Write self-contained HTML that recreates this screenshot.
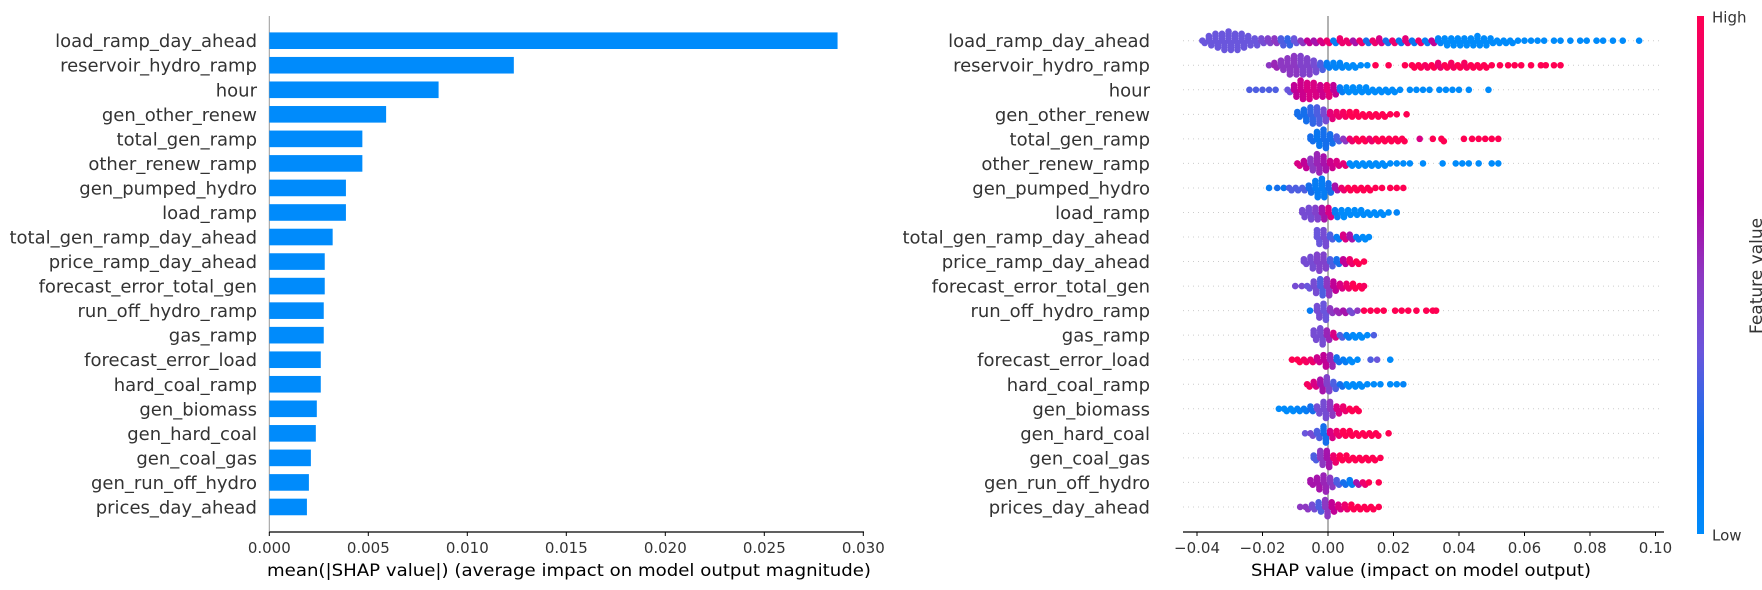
<!DOCTYPE html>
<html><head><meta charset="utf-8"><style>
html,body{margin:0;padding:0;background:#fff;}
svg{display:block;font-family:"DejaVu Sans","Liberation Sans",sans-serif;}
</style></head><body>
<svg id="chart" width="1762" height="590" viewBox="0 0 1762 590" xmlns="http://www.w3.org/2000/svg">
<defs>
<linearGradient id="cbar" x1="0" y1="1" x2="0" y2="0">
<stop offset="0" stop-color="#008bfb"/><stop offset="0.18" stop-color="#0a72ee"/>
<stop offset="0.35" stop-color="#6a56dc"/><stop offset="0.5" stop-color="#8d38c2"/>
<stop offset="0.65" stop-color="#b3009f"/><stop offset="0.82" stop-color="#de0080"/>
<stop offset="1" stop-color="#ff0052"/></linearGradient>
</defs>
<g id="left"></g>
<g id="right"></g>
<g id="cb">
<rect x="1697" y="16" width="7" height="518" fill="url(#cbar)"/>
<text x="1712" y="22.5" font-size="15" fill="#333">High</text>
<text x="1712" y="540.5" font-size="15" fill="#333">Low</text>
<text x="0" y="0" font-size="17" fill="#333" text-anchor="middle" transform="translate(1762,276) rotate(-90)">Feature value</text>
</g>
</svg>
<script>
const features = ["load_ramp_day_ahead","reservoir_hydro_ramp","hour","gen_other_renew","total_gen_ramp","other_renew_ramp","gen_pumped_hydro","load_ramp","total_gen_ramp_day_ahead","price_ramp_day_ahead","forecast_error_total_gen","run_off_hydro_ramp","gas_ramp","forecast_error_load","hard_coal_ramp","gen_biomass","gen_hard_coal","gen_coal_gas","gen_run_off_hydro","prices_day_ahead"];
const meanAbsShap = [0.0287,0.01235,0.00855,0.0059,0.0047,0.0047,0.00387,0.00387,0.0032,0.0028,0.0028,0.00275,0.00275,0.0026,0.0026,0.0024,0.00235,0.0021,0.002,0.0019];
const barTicks = ["0.000","0.005","0.010","0.015","0.020","0.025","0.030"];
const swarmTicks = ["\u22120.04","\u22120.02","0.00","0.02","0.04","0.06","0.08","0.10"];
// beeswarm clusters per feature: [shap value, dot count, feature value 0..1]
const sw0 = [[-0.038,2,.35],[-0.036,5,.35],[-0.034,7,.35],[-0.032,8,.35],[-0.030,9,.35],[-0.028,8,.35],[-0.026,7,.35],[-0.024,5,.35],[-0.022,4,.35],[-0.020,3,.4],[-0.018,3,.45],[-0.016,3,.5],[-0.014,4,.3],[-0.012,4,.25],[-0.010,3,.35],[-0.008,2,.5],[-0.006,2,.7],[-0.004,2,.6],[-0.002,2,.8],[0,2,.9],[0.002,2,.1],[0.004,3,.9],[0.006,2,.9],[0.008,2,.6],[0.010,2,.9],[0.012,2,.2],[0.014,2,.9],[0.016,3,.8],[0.018,2,.2],[0.020,2,.9],[0.022,2,.15],[0.024,3,.85],[0.026,2,.15],[0.028,2,.9],[0.030,2,.1],[0.032,2,.7],[0.034,3,.05],[0.036,4,0],[0.038,4,0],[0.040,4,0],[0.042,4,0],[0.044,4,0],[0.046,5,0],[0.048,4,0],[0.050,3,0],[0.052,2,0],[0.054,2,0],[0.056,2,0],[0.058,1,0],[0.060,1,0],[0.062,1,0],[0.064,1,0],[0.066,1,0],[0.069,1,0],[0.071,1,0],[0.074,1,0],[0.077,1,0],[0.079,1,0],[0.082,1,0],[0.084,1,0],[0.087,1,0],[0.090,1,0],[0.095,1,0]];
const sw1 = [[-0.018,1,.5],[-0.016,3,.55],[-0.014,5,.5],[-0.012,8,.5],[-0.010,9,.5],[-0.008,9,.45],[-0.006,8,.45],[-0.004,6,.4],[-0.002,4,.3],[0,3,.1],[0.002,3,.05],[0.004,3,.05],[0.006,2,0],[0.008,2,0],[0.010,1,0],[0.012,1,0],[0.0145,1,1],[0.0185,1,1],[0.0235,1,1],[0.026,2,1],[0.028,2,1],[0.030,2,.95],[0.032,2,1],[0.034,3,.9],[0.036,2,1],[0.038,3,.95],[0.040,2,1],[0.042,3,.95],[0.044,2,1],[0.046,2,1],[0.048,2,1],[0.050,1,1],[0.0525,1,1],[0.055,1,1],[0.057,1,1],[0.059,1,1],[0.062,1,1],[0.065,1,1],[0.0665,1,1],[0.069,1,1],[0.071,1,1]];
const sw2 = [[-0.024,1,.3],[-0.022,1,.3],[-0.020,1,.3],[-0.018,1,.3],[-0.016,1,.3],[-0.012,2,.35],[-0.010,6,.7],[-0.008,9,.75],[-0.006,8,.8],[-0.004,7,.8],[-0.002,6,.75],[0,6,.85],[0.002,5,.7],[0.004,3,.1],[0.006,3,0],[0.008,3,0],[0.010,3,0],[0.012,3,0],[0.014,2,0],[0.016,2,0],[0.018,2,0],[0.020,2,0],[0.022,1,0],[0.025,1,0],[0.027,1,0],[0.029,1,0],[0.031,1,0],[0.034,1,0],[0.036,1,0],[0.038,1,0],[0.040,1,0],[0.043,1,0],[0.049,1,0]];
const sw3 = [[-0.009,3,.2],[-0.007,6,.2],[-0.005,8,.25],[-0.003,8,.3],[-0.001,6,.4],[0.001,4,.85],[0.003,3,.9],[0.005,3,.95],[0.007,3,1],[0.009,3,1],[0.011,2,1],[0.013,2,1],[0.015,2,1],[0.017,2,1],[0.019,1,1],[0.021,1,1],[0.024,1,1]];
const sw4 = [[-0.005,3,.2],[-0.003,7,.15],[-0.001,9,.2],[0.001,5,.2],[0.003,3,.3],[0.005,2,.5],[0.007,2,.9],[0.009,2,1],[0.011,2,1],[0.013,2,.9],[0.015,2,1],[0.017,2,1],[0.019,2,1],[0.021,2,1],[0.023,2,1],[0.028,1,.8],[0.032,1,1],[0.035,2,1],[0.0415,1,1],[0.044,1,1],[0.046,1,1],[0.048,1,1],[0.050,1,1],[0.052,1,1]];
const sw5 = [[-0.009,2,.8],[-0.007,4,.7],[-0.005,6,.5],[-0.003,9,.55],[-0.001,7,.6],[0.001,4,.75],[0.003,3,.8],[0.005,2,.85],[0.007,2,0],[0.009,2,0],[0.011,2,0],[0.013,2,0],[0.015,2,0],[0.017,2,0],[0.019,1,0],[0.021,1,0],[0.023,1,0],[0.025,1,0],[0.029,1,0],[0.035,1,0],[0.039,1,0],[0.041,1,0],[0.043,1,0],[0.046,1,0],[0.050,1,0],[0.052,1,0]];
const sw6 = [[-0.018,1,.1],[-0.0155,1,.2],[-0.0135,1,.15],[-0.0115,2,.3],[-0.0095,2,.3],[-0.0075,2,.3],[-0.0055,4,.2],[-0.0035,8,.1],[-0.0015,9,.1],[0.0005,5,.2],[0.0025,3,.6],[0.0045,2,.9],[0.0065,2,1],[0.0085,2,1],[0.0105,2,1],[0.0125,2,1],[0.0145,1,1],[0.0165,1,1],[0.019,1,1],[0.021,1,1],[0.023,1,1]];
const sw7 = [[-0.0075,4,.4],[-0.0055,6,.4],[-0.0035,6,.45],[-0.0015,6,.6],[0.0005,5,.8],[0.0025,4,.1],[0.0045,4,0],[0.0065,3,0],[0.0085,3,0],[0.0105,3,0],[0.0125,2,0],[0.0145,2,0],[0.0165,2,0],[0.0185,1,0],[0.021,1,.05]];
const sw8 = [[-0.003,7,.35],[-0.001,8,.4],[0.001,3,.3],[0.003,2,.1],[0.005,3,.8],[0.007,3,.6],[0.009,2,.1],[0.011,2,0],[0.0125,1,0]];
const sw9 = [[-0.007,3,.4],[-0.005,6,.4],[-0.003,8,.45],[-0.001,7,.45],[0.001,4,.3],[0.003,3,.2],[0.005,3,.7],[0.007,3,.9],[0.009,2,1],[0.011,1,1]];
const sw10 = [[-0.010,1,.4],[-0.008,1,.4],[-0.006,2,.35],[-0.004,6,.4],[-0.002,8,.3],[0,8,.5],[0.002,5,.7],[0.004,3,.8],[0.006,3,.9],[0.008,3,1],[0.010,2,1],[0.011,1,.95]];
const sw11 = [[-0.0055,1,.1],[-0.003,6,.4],[-0.001,8,.35],[0.001,3,.5],[0.003,2,.55],[0.005,2,.6],[0.007,2,.4],[0.009,1,.5],[0.011,1,1],[0.013,1,1],[0.015,1,1],[0.017,1,1],[0.0205,1,1],[0.0225,1,1],[0.0245,1,1],[0.027,1,1],[0.030,1,1],[0.032,1,1],[0.033,1,1]];
const sw12 = [[-0.004,5,.4],[-0.002,8,.4],[0,5,.55],[0.002,3,.8],[0.004,2,.3],[0.006,2,.1],[0.008,2,0],[0.010,2,0],[0.012,1,0],[0.014,1,.3]];
const sw13 = [[-0.011,1,1],[-0.009,2,1],[-0.007,2,.95],[-0.005,2,.9],[-0.003,3,.75],[-0.001,6,.7],[0.001,6,.55],[0.003,3,.2],[0.005,2,.1],[0.007,2,0],[0.009,1,0],[0.013,1,.3],[0.015,1,.35],[0.019,1,0]];
const sw14 = [[-0.006,2,.95],[-0.004,3,.8],[-0.002,6,.6],[0,7,.45],[0.002,4,.3],[0.004,2,.2],[0.006,2,0],[0.008,2,0],[0.010,2,0],[0.012,1,0],[0.014,1,0],[0.016,1,0],[0.019,1,0],[0.021,1,0],[0.023,1,.05]];
const sw15 = [[-0.015,1,0],[-0.013,2,0],[-0.011,2,0],[-0.009,2,.05],[-0.007,2,.1],[-0.005,3,.2],[-0.003,4,.4],[-0.001,8,.4],[0.001,7,.5],[0.003,4,.8],[0.005,3,.9],[0.007,2,1],[0.009,2,1]];
const sw16 = [[-0.007,1,.35],[-0.005,2,.4],[-0.003,4,.3],[-0.001,8,.2],[0.001,4,.8],[0.003,3,.9],[0.005,3,1],[0.007,3,1],[0.009,2,1],[0.011,2,1],[0.013,2,1],[0.015,2,1],[0.0185,1,1]];
const sw17 = [[-0.004,3,.3],[-0.002,7,.5],[0,8,.6],[0.002,4,.9],[0.004,3,1],[0.006,3,1],[0.008,2,1],[0.010,2,1],[0.012,2,1],[0.014,2,1],[0.016,1,1]];
const sw18 = [[-0.005,3,.6],[-0.003,6,.6],[-0.001,8,.55],[0.001,5,.5],[0.003,3,.3],[0.005,2,.2],[0.007,3,.1],[0.009,2,.6],[0.011,2,.9],[0.0125,1,1],[0.0155,1,1]];
const sw19 = [[-0.0085,1,.5],[-0.0065,2,.5],[-0.0045,3,.4],[-0.0025,5,.3],[-0.0005,8,.5],[0.0015,5,.7],[0.0035,3,.8],[0.0055,3,.9],[0.0075,3,1],[0.0095,2,1],[0.0115,2,1],[0.0135,2,1],[0.0155,1,1]];
const swarms = [sw0,sw1,sw2,sw3,sw4,sw5,sw6,sw7,sw8,sw9,sw10,sw11,sw12,sw13,sw14,sw15,sw16,sw17,sw18,sw19];

const NS = "http://www.w3.org/2000/svg";
function mk(tag, attrs, parent){const e=document.createElementNS(NS,tag);for(const k in attrs)e.setAttribute(k,attrs[k]);parent.appendChild(e);return e;}
const rowY = i => 40.7 + i*24.54;
const xBar = v => 269.3 + v*19800;
const xSw = v => 1328 + v*3275;
const stops=[[0,[0,139,251]],[0.18,[10,114,238]],[0.35,[106,86,220]],[0.5,[141,56,194]],[0.65,[179,0,159]],[0.82,[222,0,128]],[1,[255,0,82]]];
function col(t){for(let i=1;i<stops.length;i++){if(t<=stops[i][0]){const a=stops[i-1],b=stops[i];const f=(t-a[0])/(b[0]-a[0]);return "rgb("+a[1].map((c,j)=>Math.round(c+(b[1][j]-c)*f)).join(",")+")";}}return "rgb(255,0,82)";}

const L=document.getElementById('left');
let e;
e=mk('line',{x1:269.3,y1:16,x2:269.3,y2:532,stroke:'#999','stroke-width':1},L);


features.forEach((f,i)=>{
  const b=mk('rect',{x:xBar(0),y:rowY(i)-8.3,width:xBar(meanAbsShap[i])-xBar(0),height:16.6,fill:'#008bfb'},L);
  
  
  const t=mk('text',{x:257,y:rowY(i)+6.5,'font-size':18,fill:'#333','text-anchor':'end'},L);
  t.textContent=f;
  
  
});
e=mk('line',{x1:269.3,y1:532,x2:864,y2:532,stroke:'#000','stroke-width':1.3},L);


barTicks.forEach((s,i)=>{
  const x=xBar(parseFloat(s));
  const tk=mk('line',{x1:x,y1:532,x2:x,y2:536,stroke:'#000','stroke-width':1},L);
  
  
  const t=mk('text',{x:x,y:553,'font-size':15,fill:'#333','text-anchor':'middle'},L);
  t.textContent=s;
  
  
});
e=mk('text',{x:569,y:576,'font-size':17,fill:'#000','text-anchor':'middle',textLength:604,lengthAdjust:'spacingAndGlyphs'},L);
e.textContent='mean(|SHAP value|) (average impact on model output magnitude)';



const R=document.getElementById('right');
features.forEach((f,i)=>{
  const d=mk('line',{x1:1183,y1:rowY(i),x2:1660,y2:rowY(i),stroke:'#ccc','stroke-width':1,'stroke-dasharray':'1,4'},R);
  
  
  const t=mk('text',{x:1150,y:rowY(i)+6.5,'font-size':18,fill:'#333','text-anchor':'end'},R);
  t.textContent=f;
  
  
});
e=mk('line',{x1:1328,y1:16,x2:1328,y2:532,stroke:'#999','stroke-width':1.5},R);


const dots=mk('g',{},R);


swarms.forEach((arr,i)=>{
  const cy=rowY(i);
  arr.forEach(c=>{
    const n=c[1];
    for(let k=0;k<n;k++){
      const m=Math.ceil(k/2)*(k%2?1:-1);
      const dx=(k%2?1.2:-1.2)*(n>1?1:0);
      const p=mk('circle',{cx:xSw(c[0])+dx,cy:cy+m*2.3,r:3.3,fill:col(c[2])},dots);
      
      
    }
  });
});
e=mk('line',{x1:1183,y1:532,x2:1664,y2:532,stroke:'#000','stroke-width':1.3},R);


swarmTicks.forEach(s=>{
  const x=xSw(parseFloat(s.replace('\u2212','-')));
  const tk=mk('line',{x1:x,y1:532,x2:x,y2:536,stroke:'#000','stroke-width':1},R);
  
  
  const t=mk('text',{x:x,y:553,'font-size':15,fill:'#333','text-anchor':'middle'},R);
  t.textContent=s;
  
  
});
e=mk('text',{x:1421,y:576,'font-size':17,fill:'#000','text-anchor':'middle',textLength:340,lengthAdjust:'spacingAndGlyphs'},R);
e.textContent='SHAP value (impact on model output)';


</script>
</body></html>
